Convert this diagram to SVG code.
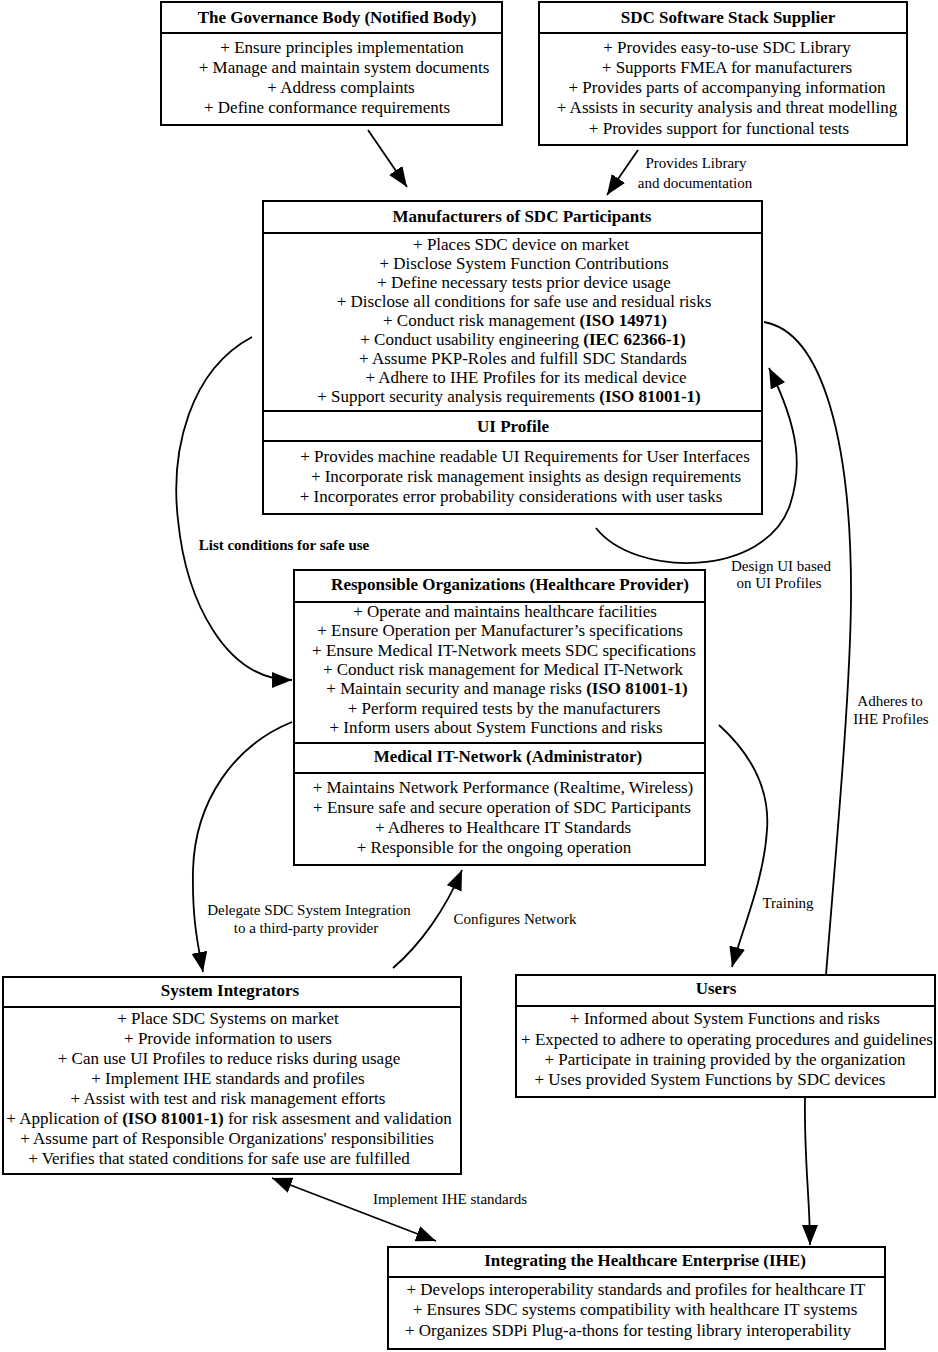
<svg xmlns="http://www.w3.org/2000/svg" width="938" height="1352" viewBox="0 0 938 1352">
<style>
text{font-family:"Liberation Serif","Times New Roman",serif;fill:#000}
.t{font-size:17px;font-weight:bold;text-anchor:middle}
.b{font-size:17px;text-anchor:middle}
.l{font-size:15px;text-anchor:middle}
.lb{font-size:15px;font-weight:bold;text-anchor:middle}
.box{fill:#fff;stroke:#000;stroke-width:2}
.div{stroke:#000;stroke-width:2}
.c{fill:none;stroke:#000;stroke-width:1.8}
tspan.k{font-weight:bold}
</style>
<defs>
<marker id="ah" markerUnits="userSpaceOnUse" markerWidth="20" markerHeight="16" refX="20" refY="8" orient="auto-start-reverse" viewBox="0 0 20 16">
<path d="M0,0 L20,8 L0,16 z" fill="#000"/>
</marker>
</defs>
<rect width="938" height="1352" fill="#fff"/>

<g id="connectors">
<path class="c" d="M368,130 L407,187" marker-end="url(#ah)"/>
<path class="c" d="M638,150 L607,195" marker-end="url(#ah)"/>
<path class="c" d="M252,337 C190,370 170,450 178,520 C186,600 225,680 292,680" marker-end="url(#ah)"/>
<path class="c" d="M596,528 C635,578 765,578 790,505 C802,468 800,430 769,368" marker-end="url(#ah)"/>
<path class="c" d="M764,322 C822,332 852,440 851,600 C850,700 835,860 826,975"/>
<path class="c" d="M719,725 C752,755 770,790 767,830 C764,880 742,930 732,967" marker-end="url(#ah)"/>
<path class="c" d="M292,722 C235,745 195,800 193,870 C192,920 198,945 203,972" marker-end="url(#ah)"/>
<path class="c" d="M393,968 C420,945 445,910 462,870" marker-end="url(#ah)"/>
<path class="c" d="M272,1178 L436,1241" marker-start="url(#ah)" marker-end="url(#ah)"/>
<path class="c" d="M805,1098 C804,1160 810,1200 810,1245" marker-end="url(#ah)"/>
<text class="l" x="696" y="168">Provides Library</text>
<text class="l" x="695" y="188">and documentation</text>
<text class="lb" x="284" y="550">List conditions for safe use</text>
<text class="l" x="781" y="571">Design UI based</text>
<text class="l" x="779" y="588">on UI Profiles</text>
<text class="l" x="890" y="706">Adheres to</text>
<text class="l" x="891" y="724">IHE Profiles</text>
<text class="l" x="788" y="908">Training</text>
<text class="l" x="309" y="915">Delegate SDC System Integration</text>
<text class="l" x="306" y="933">to a third-party provider</text>
<text class="l" x="515" y="924">Configures Network</text>
<text class="l" x="450" y="1204">Implement IHE standards</text>
</g>

<g id="governance">
<rect class="box" x="161" y="2" width="341" height="123"/>
<line class="div" x1="161" y1="33" x2="502" y2="33"/>
<text class="t" x="337" y="23">The Governance Body (Notified Body)</text>
<text class="b" x="342" y="53">+ Ensure principles implementation</text>
<text class="b" x="344" y="73">+ Manage and maintain system documents</text>
<text class="b" x="341" y="93">+ Address complaints</text>
<text class="b" x="327" y="113">+ Define conformance requirements</text>
</g>

<g id="sdc-supplier">
<rect class="box" x="539" y="2" width="368" height="143"/>
<line class="div" x1="539" y1="33" x2="907" y2="33"/>
<text class="t" x="728" y="23">SDC Software Stack Supplier</text>
<text class="b" x="727" y="53">+ Provides easy-to-use SDC Library</text>
<text class="b" x="727" y="73">+ Supports FMEA for manufacturers</text>
<text class="b" x="727" y="93">+ Provides parts of accompanying information</text>
<text class="b" x="727" y="113">+ Assists in security analysis and threat modelling</text>
<text class="b" x="719" y="134">+ Provides support for functional tests</text>
</g>

<g id="manufacturers">
<rect class="box" x="263" y="201" width="499" height="313"/>
<line class="div" x1="263" y1="233" x2="762" y2="233"/>
<line class="div" x1="263" y1="411" x2="762" y2="411"/>
<line class="div" x1="263" y1="441" x2="762" y2="441"/>
<text class="t" x="522" y="222">Manufacturers of SDC Participants</text>
<text class="b" x="521" y="250">+ Places SDC device on market</text>
<text class="b" x="524" y="269">+ Disclose System Function Contributions</text>
<text class="b" x="524" y="288">+ Define necessary tests prior device usage</text>
<text class="b" x="524" y="307">+ Disclose all conditions for safe use and residual risks</text>
<text class="b" x="525" y="326">+ Conduct risk management  <tspan class="k">(ISO 14971)</tspan></text>
<text class="b" x="523" y="345">+ Conduct usability engineering <tspan class="k">(IEC 62366-1)</tspan></text>
<text class="b" x="523" y="364">+ Assume PKP-Roles and fulfill SDC Standards</text>
<text class="b" x="526" y="383">+ Adhere to IHE Profiles for its medical device</text>
<text class="b" x="509" y="402">+ Support security analysis requirements <tspan class="k">(ISO 81001-1)</tspan></text>
<text class="t" x="513" y="432">UI Profile</text>
<text class="b" x="525" y="462">+ Provides machine readable UI Requirements for User Interfaces</text>
<text class="b" x="526" y="482">+ Incorporate risk management insights as design requirements</text>
<text class="b" x="511" y="502">+ Incorporates error probability considerations with user tasks</text>
</g>

<g id="responsible-organizations">
<rect class="box" x="294" y="570" width="411" height="295"/>
<line class="div" x1="294" y1="602" x2="705" y2="602"/>
<line class="div" x1="294" y1="743" x2="705" y2="743"/>
<line class="div" x1="294" y1="773" x2="705" y2="773"/>
<text class="t" x="510" y="590">Responsible Organizations (Healthcare Provider)</text>
<text class="b" x="505" y="617">+ Operate and maintains healthcare facilities</text>
<text class="b" x="500" y="636">+ Ensure Operation per Manufacturer’s specifications</text>
<text class="b" x="504" y="656">+ Ensure Medical IT-Network meets SDC specifications</text>
<text class="b" x="503" y="675">+ Conduct risk management for Medical IT-Network</text>
<text class="b" x="507" y="694">+ Maintain security and manage risks <tspan class="k">(ISO 81001-1)</tspan></text>
<text class="b" x="504" y="714">+ Perform required tests by the manufacturers</text>
<text class="b" x="496" y="733">+ Inform users about System Functions and risks</text>
<text class="t" x="508" y="762">Medical IT-Network (Administrator)</text>
<text class="b" x="503" y="793">+ Maintains Network Performance (Realtime, Wireless)</text>
<text class="b" x="502" y="813">+ Ensure safe and secure operation of SDC Participants</text>
<text class="b" x="503" y="833">+ Adheres to Healthcare IT Standards</text>
<text class="b" x="494" y="853">+ Responsible for the ongoing operation</text>
</g>

<g id="system-integrators">
<rect class="box" x="3" y="977" width="458" height="197"/>
<line class="div" x1="3" y1="1007" x2="461" y2="1007"/>
<text class="t" x="230" y="996">System Integrators</text>
<text class="b" x="228" y="1024">+ Place SDC Systems on market</text>
<text class="b" x="228" y="1044">+ Provide information to users</text>
<text class="b" x="229" y="1064">+ Can use UI Profiles to reduce risks during usage</text>
<text class="b" x="228" y="1084">+ Implement IHE standards and profiles</text>
<text class="b" x="228" y="1104">+ Assist with test and risk management efforts</text>
<text class="b" x="229" y="1124">+ Application of <tspan class="k">(ISO 81001-1)</tspan> for risk assesment and validation</text>
<text class="b" x="227" y="1144">+ Assume part of Responsible Organizations' responsibilities</text>
<text class="b" x="219" y="1164">+ Verifies that stated conditions for safe use are fulfilled</text>
</g>

<g id="users">
<rect class="box" x="516" y="975" width="419" height="122"/>
<line class="div" x1="516" y1="1006" x2="935" y2="1006"/>
<text class="t" x="716" y="994">Users</text>
<text class="b" x="725" y="1024">+ Informed about System Functions and risks</text>
<text class="b" x="727" y="1045">+ Expected to adhere to operating procedures and guidelines</text>
<text class="b" x="725" y="1065">+ Participate in training provided by the organization</text>
<text class="b" x="710" y="1085">+ Uses provided System Functions by SDC devices</text>
</g>

<g id="ihe">
<rect class="box" x="388" y="1247" width="497" height="102"/>
<line class="div" x1="388" y1="1277" x2="885" y2="1277"/>
<text class="t" x="645" y="1266">Integrating the Healthcare Enterprise (IHE)</text>
<text class="b" x="636" y="1295">+ Develops interoperability standards and profiles for healthcare IT</text>
<text class="b" x="635" y="1315">+ Ensures SDC systems compatibility with healthcare IT systems</text>
<text class="b" x="628" y="1336">+ Organizes SDPi Plug-a-thons for testing library interoperability</text>
</g>
</svg>
